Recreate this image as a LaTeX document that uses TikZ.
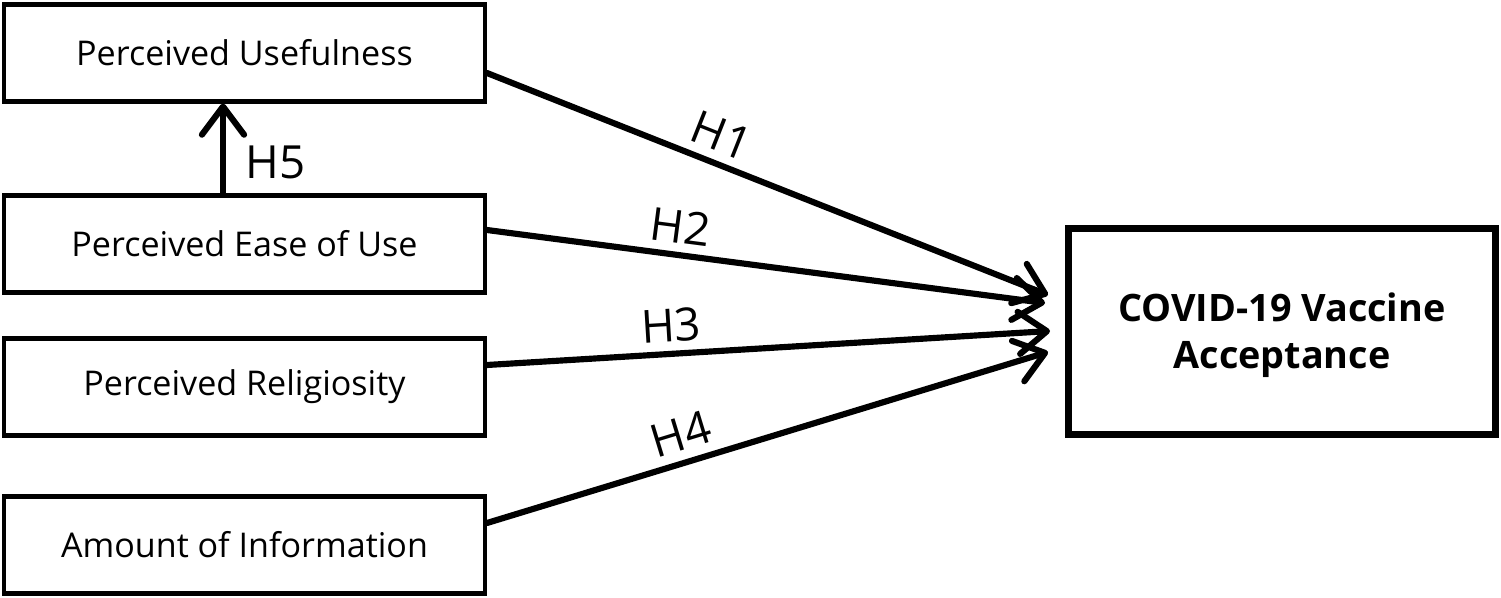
\documentclass[tikz,border=0pt]{standalone}
\usepackage{fontspec}
\setmainfont{Open Sans}
\usetikzlibrary{arrows.meta}
\tikzset{
    factor/.style={draw, line width=2.3pt, minimum width=9.62cm, minimum height=1.94cm,
        inner sep=0pt, font=\fontsize{19.4}{23}\selectfont},
    outcome/.style={draw, line width=4pt, minimum width=8.54cm, minimum height=4.14cm,
        align=center, font=\bfseries\fontsize{21.5}{27}\selectfont},
    path/.style={line width=3.5pt, line cap=round,
        -{Straight Barb[length=16pt, width=24pt, line width=3.5pt, line cap=round, line join=round]}},
    hyp/.style={font=\fontsize{26}{30}\selectfont, inner sep=5pt}
}
\begin{document}
\begin{tikzpicture}[x=0.02cm, y=-0.02cm]
                \useasboundingbox (0,0) rectangle (1501,598);
                \node[factor] (pu) at (244.5,53) {Perceived Usefulness};
                \node[factor] (peu) at (244.5,244) {Perceived Ease of Use};
                \node[factor] (pr) at (244.5,387) {Perceived Religiosity};
                \node[factor] (ai) at (244.5,545) {Amount of Information};
                \node[outcome, text height=1.66cm] (cva) at (1282,331.5) {COVID-19 Vaccine\\Acceptance};
                % arrow tips in front of the outcome box
                \coordinate (t1) at (1048,295);
                \coordinate (t2) at (1045,303);
                \coordinate (t3) at (1050,331);
                \coordinate (t4) at (1048,352);
                \draw[path] ([yshift=-20*0.02cm]pu.east) -- (t1) node[hyp, sloped, above, pos=0.40] {H1};
                \draw[path] ([yshift=14*0.02cm]peu.east) -- (t2) node[hyp, sloped, above, pos=0.34] {H2};
                \draw[path] ([yshift=22*0.02cm]pr.east) -- (t3) node[hyp, sloped, above, pos=0.33] {H3};
                \draw[path] ([yshift=22*0.02cm]ai.east) -- (t4) node[hyp, sloped, above, pos=0.36] {H4};
                \draw[path] ([xshift=-21.5*0.02cm]peu.north) -- ([xshift=-21.5*0.02cm]pu.south)
                    node[hyp, right=6pt, pos=0.35] {H5};
            \end{tikzpicture}
\end{document}
